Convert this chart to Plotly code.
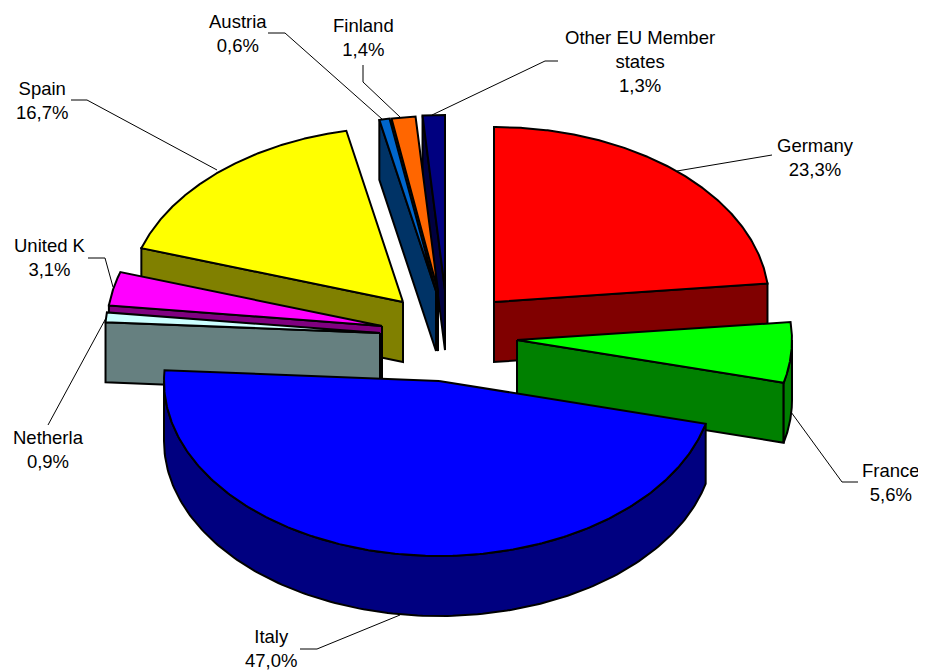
import numpy as np
import plotly.graph_objects as go

# data (clockwise from 12 o'clock)
categories = ["Germany", "France", "Italy", "Netherla", "United K", "Spain", "Austria", "Finland", "Other EU Member<br>states"]
shares = [23.3, 5.6, 47.0, 0.9, 3.1, 16.7, 0.6, 1.4, 1.3]

# style
top_colors = ["#FF0000", "#00FF00", "#0000FF", "#CCFFFF", "#FF00FF", "#FFFF00", "#0066CC", "#FF6600", "#000080"]
side_colors = ["#800000", "#008000", "#000080", "#668080", "#800080", "#808000", "#003366", "#803300", "#000040"]
apex_x = [494, 517, 439, 380, 382, 403, 436, 438, 445]
apex_y = [302, 340, 381, 333, 326, 302, 291, 291, 290]
draw_order = [8, 7, 6, 0, 5, 4, 3, 1, 2]
label_x = [815, 891, 271, 48, 50, 42, 238, 363, 640]
label_y = [157, 482, 648, 449, 257, 100, 33, 37, 61]
leader_x = [[772, 677], [858, 842, 791], [300, 317, 400], [48, 106], [88, 105, 113], [71, 87, 217], [268, 285, 382], [363, 363, 400], [558, 545, 432]]
leader_y = [[155, 171], [482, 482, 412], [649, 649, 615], [425, 318], [258, 258, 287], [100, 100, 170], [33, 33, 119], [65, 82, 117], [61, 61, 115]]

RX, RY, DEPTH, LW = 275, 175, 60, 2
PAGE_INSET = 8  # the page's default body margin

fig = go.Figure()


def poly(xs, ys, color):
    fig.add_trace(go.Scatter(x=list(xs), y=list(ys), mode="lines", fill="toself", fillcolor=color,
                             line=dict(color="black", width=LW), hoverinfo="skip", showlegend=False))


def rim(ax, ay, t):
    r = np.radians(t)
    return ax + RX * np.sin(r), ay - RY * np.cos(r)


edges = np.concatenate([[0], np.cumsum(shares)]) / sum(shares) * 360

for i in draw_order:
    a0, a1 = edges[i], edges[i + 1]
    ax, ay = apex_x[i], apex_y[i]
    for t, vis in ((a0, a0 > 180), (a1, 0 < a1 < 180)):
        if vis:
            px, py = rim(ax, ay, t)
            poly([ax, px, px, ax, ax], [ay, py, py + DEPTH, ay + DEPTH, ay], side_colors[i])
    w0, w1 = max(a0, 90), min(a1, 270)
    if w1 > w0:
        ts = np.linspace(w0, w1, 160)
        px, py = rim(ax, ay, ts)
        poly(np.r_[px, px[::-1], px[0]], np.r_[py, py[::-1] + DEPTH, py[0]], side_colors[i])
    ts = np.linspace(a0, a1, 240)
    px, py = rim(ax, ay, ts)
    poly(np.r_[ax, px, ax], np.r_[ay, py, ay], top_colors[i])

for name, v, lx, ly, xs, ys in zip(categories, shares, label_x, label_y, leader_x, leader_y):
    fig.add_trace(go.Scatter(x=xs, y=ys, mode="lines", line=dict(color="black", width=1),
                             hoverinfo="skip", showlegend=False))
    fig.add_annotation(x=lx, y=ly, text=f"{name}<br>{v:.1f}".replace(".", ",") + "%", showarrow=False,
                       font=dict(family="Liberation Sans, Arial", size=18.5, color="black"), align="center")

fig.update_layout(width=926, height=671, margin=dict(l=0, r=0, t=0, b=0), paper_bgcolor="white",
                  plot_bgcolor="white", showlegend=False,
                  xaxis=dict(range=[PAGE_INSET, 926 + PAGE_INSET], visible=False, fixedrange=True),
                  yaxis=dict(range=[671 + PAGE_INSET, PAGE_INSET], visible=False, fixedrange=True))
fig.write_html("out.html", config={"displayModeBar": False})
